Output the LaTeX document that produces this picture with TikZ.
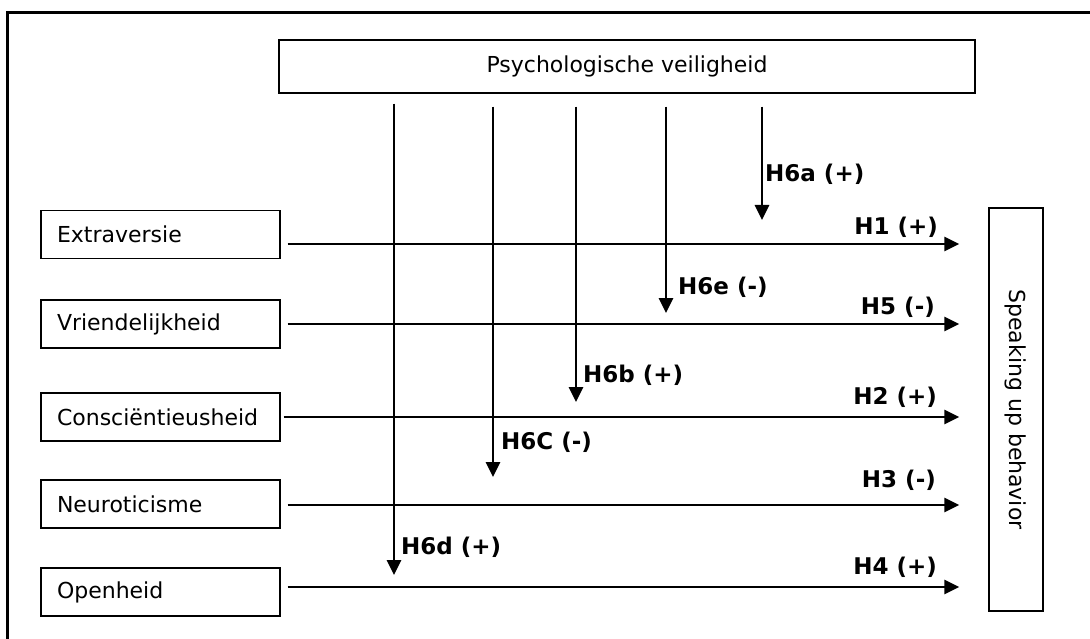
\documentclass[tikz,border=0pt]{standalone}
\usepackage{fontspec}
\setmainfont{DejaVu Sans}
\usetikzlibrary{arrows.meta}
\begin{document}
\begin{tikzpicture}[x=1pt,y=-1pt,
  box/.style={draw, line width=1.3pt, inner sep=0pt, font=\fontsize{22}{26}\selectfont},
  leftbox/.style={box, minimum width=239pt, minimum height=48pt, text width=207pt, align=left, inner xsep=16pt},
  arr/.style={line width=2.8pt, -{Triangle[length=15pt,width=14pt]}},
  lab/.style={font=\fontsize{23}{27}\selectfont\bfseries, inner sep=0pt}
]
\useasboundingbox (0,0) rectangle (1090,639);
\draw[line width=3pt] (7,639) -- (7,13) -- (1090,13);

\node[box, minimum width=696pt, minimum height=53pt] (pv) at (627,66.5) {Psychologische veiligheid};
\node[box, rotate=-90, minimum width=403pt, minimum height=54pt] (sb) at (1016,409.5) {Speaking up behavior};

\node[leftbox] (ex) at (160.5,234.5) {Extraversie};
\node[leftbox] (vr) at (160.5,324) {Vriendelijkheid};
\node[leftbox] (co) at (160.5,417) {Consciëntieusheid};
\node[leftbox] (ne) at (160.5,504) {Neuroticisme};
\node[leftbox] (op) at (160.5,592) {Openheid};

\draw[arr] ([xshift=7pt,yshift=-9.5pt]ex.east) -- ([xshift=-29pt,yshift=-9.5pt]ex.east -| sb.south);
\draw[arr] ([xshift=7pt]vr.east) -- ([xshift=-29pt]vr.east -| sb.south);
\draw[arr] ([xshift=3pt]co.east) -- ([xshift=-29pt]co.east -| sb.south);
\draw[arr] ([xshift=7pt,yshift=-1pt]ne.east) -- ([xshift=-29pt,yshift=-1pt]ne.east -| sb.south);
\draw[arr] ([xshift=7pt,yshift=5pt]op.east) -- ([xshift=-29pt,yshift=5pt]op.east -| sb.south);

\coordinate (ta) at (762,220);
\coordinate (te) at (666,313);
\coordinate (tb) at (576,402);
\coordinate (tc) at (493,477);
\coordinate (td) at (394,575);
\draw[arr] ([yshift=-13pt]pv.south -| ta) -- (ta);
\draw[arr] ([yshift=-13pt]pv.south -| te) -- (te);
\draw[arr] ([yshift=-13pt]pv.south -| tb) -- (tb);
\draw[arr] ([yshift=-13pt]pv.south -| tc) -- (tc);
\draw[arr] ([yshift=-10pt]pv.south -| td) -- (td);

\node[lab, anchor=west] (l6a) at (765,174) {H6a (+)};
\node[lab, anchor=west] (l6e) at (678,287) {H6e (-)};
\node[lab, anchor=west] (l6b) at (583,375) {H6b (+)};
\node[lab, anchor=west] (l6c) at (501,442) {H6C (-)};
\node[lab, anchor=west] (l6d) at (401,547) {H6d (+)};

\node[lab, anchor=east] (l1) at (938,227) {H1 (+)};
\node[lab, anchor=east] (l5) at (935,307) {H5 (-)};
\node[lab, anchor=east] (l2) at (937,397) {H2 (+)};
\node[lab, anchor=east] (l3) at (936,480) {H3 (-)};
\node[lab, anchor=east] (l4) at (937,567) {H4 (+)};
\end{tikzpicture}
\end{document}
